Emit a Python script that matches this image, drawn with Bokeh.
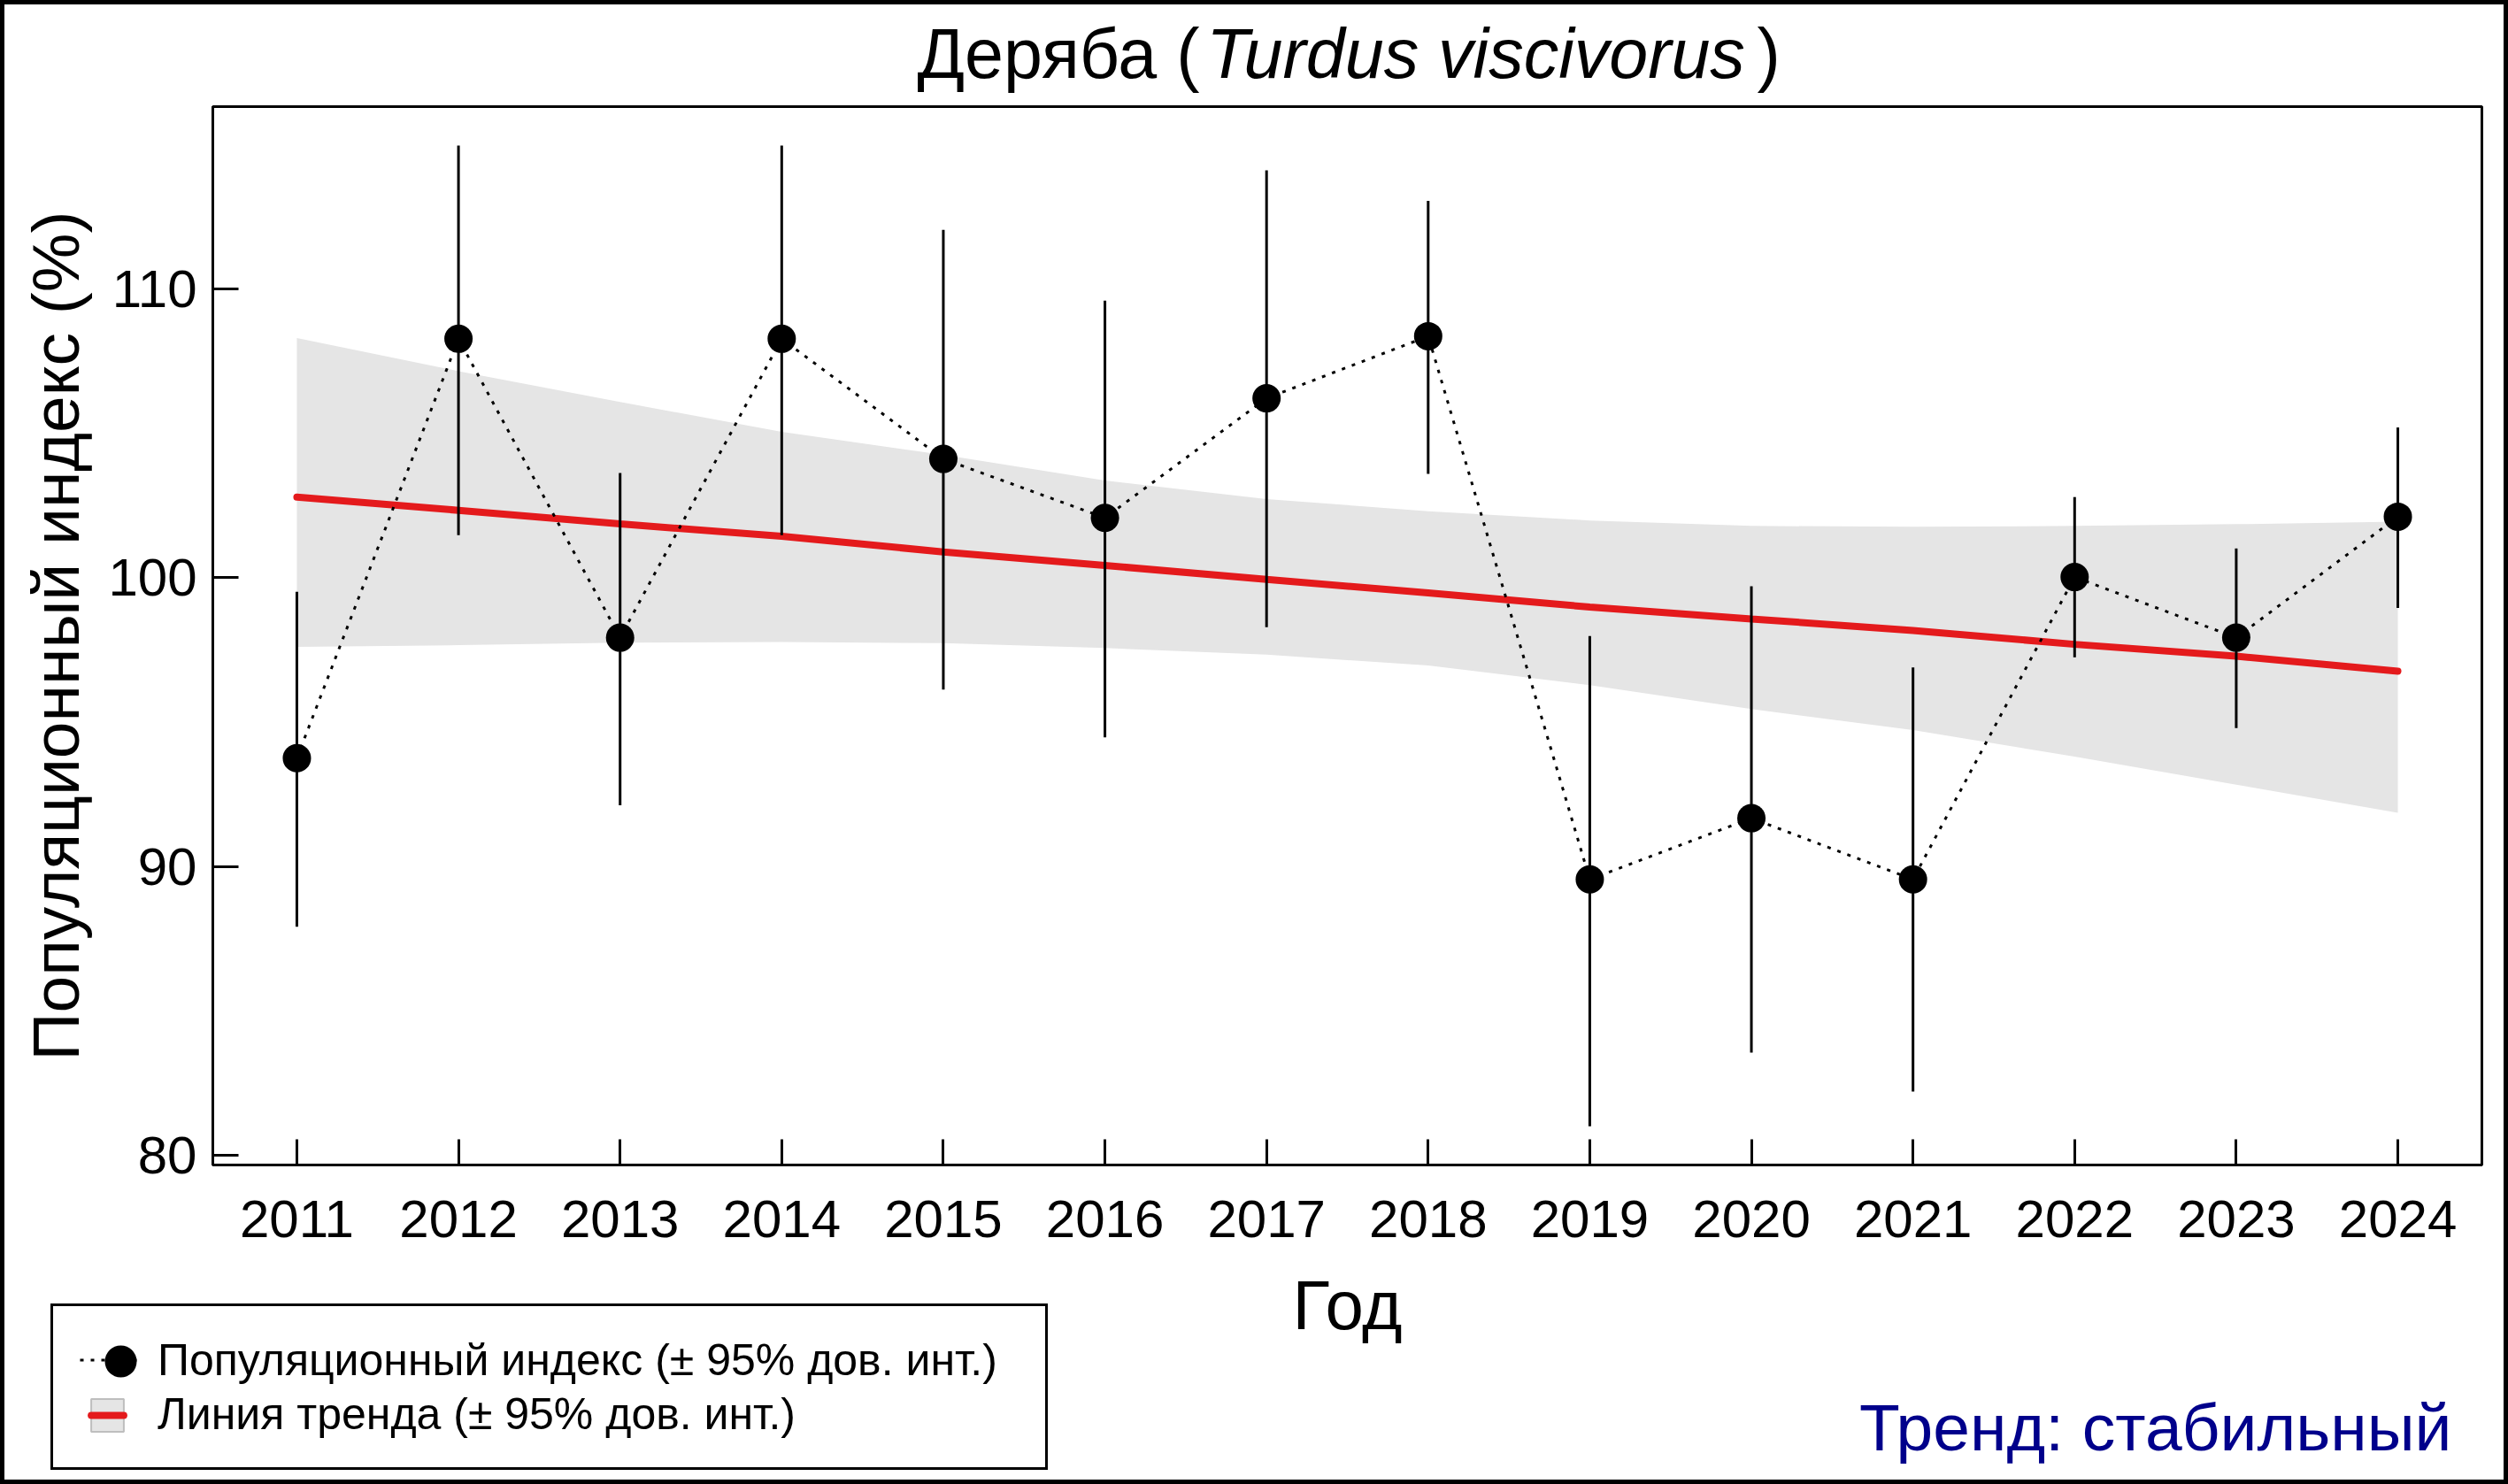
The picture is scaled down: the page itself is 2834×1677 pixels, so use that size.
from bokeh.plotting import figure
from bokeh.models import (Range1d, FixedTicker, Label, Legend, LegendItem,
                          ColumnDataSource, Div)
from bokeh.layouts import column, row
from bokeh.embed import file_html
from bokeh.resources import INLINE

# ---------------- data ----------------
years = [2011, 2012, 2013, 2014, 2015, 2016, 2017, 2018, 2019, 2020, 2021, 2022, 2023, 2024]
index_val = [93.75, 108.27, 97.92, 108.27, 104.11, 102.07, 106.21, 108.36, 89.55, 91.67, 89.55, 100.02, 97.92, 102.11]
ci_low = [87.91, 101.47, 92.12, 101.47, 96.12, 94.47, 98.28, 103.59, 81.0, 83.55, 82.2, 97.24, 94.79, 98.95]
ci_high = [99.51, 114.96, 103.62, 114.96, 112.04, 109.59, 114.1, 113.05, 97.98, 99.7, 96.89, 102.79, 101.01, 105.2]
trend = [102.79, 102.33, 101.86, 101.43, 100.89, 100.42, 99.94, 99.47, 98.98, 98.57, 98.17, 97.69, 97.28, 96.76]
band_high = [108.30, 107.15, 106.08, 105.05, 104.25, 103.36, 102.72, 102.30, 101.98, 101.79, 101.76, 101.79, 101.85, 101.94]
band_low = [97.60, 97.66, 97.75, 97.77, 97.73, 97.56, 97.33, 96.96, 96.28, 95.45, 94.72, 93.80, 92.83, 91.86]
y_ticks = [80, 90, 100, 110]

title_main = "Деряба ("
title_latin = "Turdus viscivorus"
title_close = ")"
x_title = "Год"
y_title = "Популяционный индекс (%)"
legend_index = "Популяционный индекс (± 95% дов. инт.)"
legend_trend = "Линия тренда (± 95% дов. инт.)"
trend_text = "Тренд: стабильный"

FONT = "Liberation Sans"
RED = "#E41A1C"
BAND = "#E5E5E5"

TOTAL_W, TOTAL_H = 2834, 1677
BORDER = 5
IW = TOTAL_W - 2 * BORDER          # 2824
IH = TOTAL_H - 2 * BORDER          # 1667
HA, HB = 110, 1311
HC = IH - HA - HB                  # 246


def blank(w, h):
    f = figure(width=w, height=h, output_backend="svg", toolbar_location=None,
               x_axis_type=None, y_axis_type=None, min_border=0,
               x_range=Range1d(0, 1), y_range=Range1d(0, 1),
               background_fill_color="white", border_fill_color="white")
    f.frame_align = False
    f.outline_line_color = None
    f.grid.visible = False
    return f


def lab(text, x, y, align, size, style="normal", color="black"):
    return Label(x=x, y=y, x_units="screen", y_units="screen", text=text,
                 text_align=align, text_baseline="alphabetic",
                 text_font=FONT, text_font_size=size,
                 text_font_style=style, text_color=color)


# ---------------- title strip ----------------
pa = blank(IW, HA)
pa.add_layout(lab(title_main, 1350, 55, "right", "79px"))
pa.add_layout(lab(title_latin, 1662, 55, "center", "79px", style="italic"))
pa.add_layout(lab(title_close, 1980, 55, "left", "79px"))

# ---------------- main plot ----------------
p = figure(width=IW, height=HB, output_backend="svg", toolbar_location=None,
           x_range=Range1d(2010.48, 2024.52), y_range=Range1d(79.66, 116.31),
           min_border_left=235, min_border_right=25,
           min_border_top=5, min_border_bottom=110,
           background_fill_color="white", border_fill_color="white")
p.frame_align = False
p.grid.visible = False
p.outline_line_color = "black"
p.outline_line_width = 3

for ax in (p.xaxis[0], p.yaxis[0]):
    ax.axis_line_width = 3
    ax.major_tick_line_width = 3
    ax.major_tick_in = 29
    ax.major_tick_out = 0
    ax.minor_tick_line_color = None
    ax.major_label_text_font = FONT
    ax.major_label_text_font_size = "60px"
    ax.major_label_text_color = "black"
    ax.axis_label_text_font = FONT
    ax.axis_label_text_font_size = "75px"
    ax.axis_label_text_font_style = "normal"
    ax.axis_label_text_color = "black"

p.xaxis.ticker = FixedTicker(ticks=years)
p.yaxis.ticker = FixedTicker(ticks=y_ticks)
p.yaxis.axis_label = y_title
p.xaxis.major_label_standoff = 40
p.yaxis.major_label_standoff = 18
p.yaxis.axis_label_standoff = 14

src = ColumnDataSource(dict(x=years, y=index_val, lo=ci_low, hi=ci_high,
                            t=trend, bl=band_low, bh=band_high))

p.varea(x="x", y1="bl", y2="bh", source=src, fill_color=BAND)
p.line("x", "t", source=src, line_color=RED, line_width=8, line_cap="round")
p.segment(x0="x", y0="lo", x1="x", y1="hi", source=src, line_color="black", line_width=3)
p.line("x", "y", source=src, line_color="black", line_width=3, line_dash="4 8")
p.scatter("x", "y", source=src, size=32, fill_color="black", line_color=None)

# ---------------- bottom strip: x title, legend, trend verdict ----------------
pc = blank(IW, HC)
pc.add_layout(lab(x_title, 1517, 198, "center", "78px"))
pc.add_layout(lab(trend_text, 2765, 60, "right", "75px", color="#00008B"))

# legend swatches (their data lie outside the visible range of this strip)
off = ColumnDataSource(dict(x=[-5, -6], y=[-5, -6]))
lg_line = pc.line("x", "y", source=off, line_color="black", line_width=3, line_dash="4 8")
lg_pt = pc.scatter("x", "y", source=off, marker="circle", fill_color="black", line_color=None)
lg_sq = pc.scatter("x", "y", source=off, marker="square", fill_color=BAND,
                   line_color="#BEBEBE", line_width=2)
lg_dash = pc.scatter("x", "y", source=off, marker="dash", line_color=RED,
                     line_width=8, line_cap="round")
ghost = pc.scatter("x", "y", source=off, marker="square", fill_alpha=0, line_alpha=0)

# main legend box with the texts
legend = Legend(items=[LegendItem(label=legend_index, renderers=[lg_line]),
                       LegendItem(label=legend_trend, renderers=[ghost])],
                location=(52, 11), orientation="vertical",
                margin=0, padding=30, spacing=0,
                glyph_width=70, glyph_height=61, label_standoff=18,
                label_width=973, label_height=61,
                label_text_font=FONT, label_text_font_size="50px",
                label_text_color="black", label_text_baseline="middle",
                border_line_color="black", border_line_width=3, border_line_alpha=1.0,
                background_fill_color="white", background_fill_alpha=1.0)
pc.add_layout(legend, "center")


def swatch(renderers, size, x, y):
    return Legend(items=[LegendItem(label=" ", renderers=renderers)],
                  location=(x, y), orientation="vertical", margin=0, padding=0,
                  spacing=0, glyph_width=size, glyph_height=size,
                  label_standoff=0, label_width=0, label_height=10,
                  label_text_font_size="2px",
                  border_line_color=None, background_fill_alpha=0.0)


pc.add_layout(swatch([lg_pt], 90, 86, 89), "center")
pc.add_layout(swatch([lg_sq, lg_dash], 92, 70, 27), "center")

# ---------------- outer black border ----------------
def bar(w, h):
    return Div(text="", width=w, height=h, margin=0,
               styles={"background-color": "black"})

inner = column(pa, p, pc, spacing=0)
layout = column(bar(TOTAL_W, BORDER),
                row(bar(BORDER, IH), inner, bar(BORDER, IH), spacing=0),
                bar(TOTAL_W, BORDER), spacing=0)

open("out.html", "w").write(file_html(layout, INLINE))
